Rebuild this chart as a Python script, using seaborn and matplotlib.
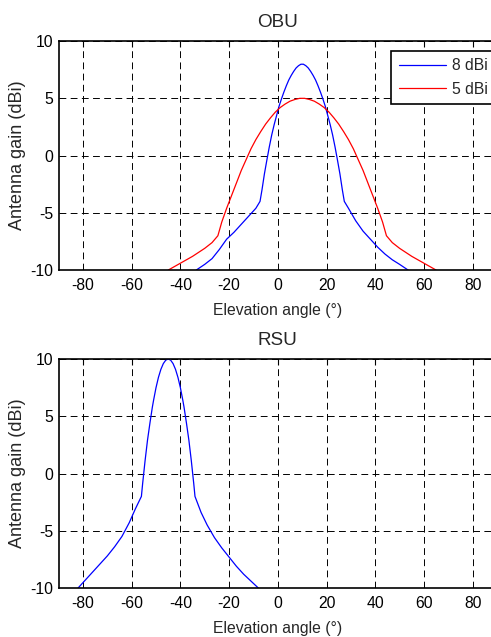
import matplotlib
matplotlib.use("Agg")
import seaborn as sns
import matplotlib.pyplot as plt

# OBU, 8 dBi antenna
obu8_x = [-33.5, -30, -27, -24, -21, -18, -15, -12, -9, -7.3, -6.5, -5.5, -4.5, -3.5, -2.5, -1.5, -0.5,
          0.5, 1.5, 2.5, 3.5, 4.5, 5.5, 6.5, 7.5, 8.5, 9.5, 10.5, 11.5, 12.5, 13.5, 14.5, 15.5,
          16.5, 17.5, 18.5, 19.5, 20.5, 21.5, 22.5, 23.5, 24.5, 25.5, 26.5, 27.3,
          29, 32, 35, 38, 41, 44, 47, 50, 53.5]
obu8_y = [-10, -9.5, -9.0, -8.2, -7.3, -6.7, -6.0, -5.3, -4.6, -4.0, -3.0, -1.6, -0.4, 0.75, 1.8, 2.7, 3.5,
          4.3, 4.95, 5.55, 6.1, 6.6, 7.0, 7.35, 7.65, 7.85, 7.98, 7.98, 7.85, 7.65, 7.35, 7.0, 6.6,
          6.1, 5.55, 4.95, 4.3, 3.5, 2.7, 1.8, 0.75, -0.4, -1.6, -3.0, -4.0,
          -4.6, -5.7, -6.6, -7.3, -8.0, -8.6, -9.1, -9.5, -10]

# OBU, 5 dBi antenna
obu5_x = [-45, -40, -35, -30, -27, -24.6, -23, -21, -19, -17, -15, -13, -11, -9, -7, -5, -3, -1,
          1, 3, 5, 7, 9, 11, 13, 15, 17, 19, 21, 23, 25, 27, 29, 31, 33, 35, 37, 39, 41, 43, 44.6,
          47, 50, 55, 60, 65]
obu5_y = [-10, -9.4, -8.8, -8.1, -7.6, -7.0, -5.8, -4.6, -3.5, -2.4, -1.3, -0.35, 0.6, 1.4, 2.1, 2.75, 3.3, 3.8,
          4.2, 4.5, 4.75, 4.9, 5.0, 5.0, 4.9, 4.75, 4.5, 4.2, 3.8, 3.3, 2.75, 2.1, 1.4, 0.6, -0.35, -1.3,
          -2.4, -3.5, -4.6, -5.8, -7.0, -7.6, -8.1, -8.8, -9.4, -10]

# RSU antenna
rsu_x = [-82, -79, -76, -73, -70, -67, -64, -61, -58.5, -56, -55.5, -55, -54.5, -54, -53.5, -53, -52.5,
         -52, -51.5, -51, -50.5, -50, -49.5, -49, -48, -47, -46, -45, -44, -43, -42, -41, -40.5, -40,
         -39.5, -39, -38.5, -38, -37.5, -37, -36.5, -36, -35.5, -35, -34.5, -34, -31.5, -29, -26, -23,
         -20, -17, -14, -11, -8]
rsu_y = [-10, -9.3, -8.6, -7.9, -7.2, -6.4, -5.5, -4.3, -3.1, -2.0, -0.9, 0.1, 1.1, 2.0, 2.9, 3.65, 4.4,
         5.1, 5.8, 6.4, 6.95, 7.5, 7.95, 8.4, 9.1, 9.6, 9.9, 10.0, 9.9, 9.6, 9.1, 8.4, 7.95, 7.5,
         6.95, 6.4, 5.8, 5.1, 4.4, 3.65, 2.9, 2.0, 1.1, 0.1, -0.9, -2.0, -3.4, -4.5, -5.6, -6.5,
         -7.3, -8.1, -8.8, -9.4, -10]

xticks = [-80, -60, -40, -20, 0, 20, 40, 60, 80]
yticks = [-10, -5, 0, 5, 10]

sns.set_style("white")
plt.rcParams["font.family"] = ["Liberation Sans", "DejaVu Sans"]
plt.rcParams["font.size"] = 11.3
plt.rcParams["axes.unicode_minus"] = False

fig = plt.figure(figsize=(4.91, 6.37), dpi=100)
ax1 = fig.add_axes([0.1193, 0.576, 0.893, 0.3595])
ax2 = fig.add_axes([0.1193, 0.0769, 0.893, 0.3595])

sns.lineplot(x=obu8_x, y=obu8_y, ax=ax1, color="blue", lw=0.9, label="8 dBi", sort=False)
sns.lineplot(x=obu5_x, y=obu5_y, ax=ax1, color="red", lw=0.9, label="5 dBi", sort=False)
sns.lineplot(x=rsu_x, y=rsu_y, ax=ax2, color="blue", lw=0.9, sort=False)

for ax, title in [(ax1, "OBU"), (ax2, "RSU")]:
    ax.set_xlim(-90, 90)
    ax.set_ylim(-10, 10)
    ax.set_xticks(xticks)
    ax.set_yticks(yticks)
    ax.grid(True, color="black", lw=0.7, linestyle=(0, (7, 4.5)))
    ax.tick_params(direction="in", length=4, width=0.8, top=True, right=True, colors="black")
    ax.tick_params(axis="x", pad=6)
    ax.tick_params(axis="y", pad=4)
    for s in ax.spines.values():
        s.set_color("black")
        s.set_linewidth(1.2)
    ax.set_title(title, pad=10)
    ax.set_xlabel("Elevation angle (°)", labelpad=7)
    ax.set_ylabel("Antenna gain (dBi)", labelpad=3, fontsize=13)

leg = ax1.legend(loc="upper right", bbox_to_anchor=(0.995, 0.957), borderaxespad=0,
                 frameon=True, fancybox=False, framealpha=1, edgecolor="black",
                 handlelength=3.0, handletextpad=0.4, labelspacing=0.55, borderpad=0.45)
leg.get_frame().set_linewidth(1.2)

fig.savefig("out.png", dpi=100)
